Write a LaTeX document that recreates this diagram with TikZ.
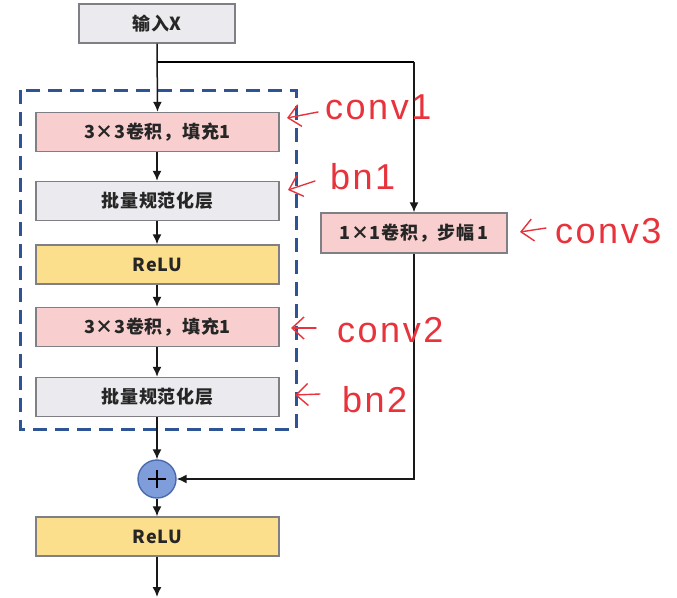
\documentclass[tikz,border=0pt]{standalone}
\usepackage{fontspec}
\setmainfont{Noto Sans CJK SC}
\newfontfamily\annofont{Liberation Sans}
\usetikzlibrary{arrows.meta,calc}
\definecolor{boxborder}{HTML}{7F7F85}
\definecolor{grayfill}{HTML}{EBEBEF}
\definecolor{pinkfill}{HTML}{F8CFCE}
\definecolor{yellowfill}{HTML}{FBDF8C}
\definecolor{bluefill}{HTML}{7E9DDA}
\definecolor{blueborder}{HTML}{4A6AAE}
\definecolor{dashblue}{HTML}{2F5496}
\definecolor{annored}{HTML}{E8333C}
\tikzset{
  layer/.style={draw=boxborder, line width=1.4pt, minimum width=243pt, minimum height=39pt,
    inner sep=0pt, font=\fontsize{18}{20}\selectfont\bfseries\addfontfeatures{LetterSpace=4}, text=black!85},
  graybox/.style={layer, fill=grayfill},
  pinkbox/.style={layer, fill=pinkfill},
  yellowbox/.style={layer, fill=yellowfill},
  flow/.style={line width=1.5pt, draw=black!90, -{Latex[length=10pt,width=9pt]}},
  anno/.style={draw=annored, line width=1.4pt, line cap=round, -{Straight Barb[length=12pt,width=22pt]}},
  annotext/.style={text=annored, anchor=base west, inner sep=0pt, font=\annofont\fontsize{36}{40}\selectfont\addfontfeatures{LetterSpace=7}},
}
\begin{document}
\begin{tikzpicture}[x=1pt,y=-1pt]
\useasboundingbox[fill=white] (0,0) rectangle (677,597);
% dashed block
\draw[dashblue, line width=3pt, dash pattern=on 14pt off 8pt] (20,90) rectangle (296,429);
% nodes
\node[graybox, minimum width=156pt] (in) at (157,23.5) {输入X};
\node[pinkbox] (c1) at (157.5,132) {3×3卷积，填充1};
\node[graybox] (b1) at (157.5,201) {批量规范化层};
\node[yellowbox] (r1) at (157.5,264.5) {ReLU};
\node[pinkbox] (c2) at (157.5,327) {3×3卷积，填充1};
\node[graybox] (b2) at (157.5,397) {批量规范化层};
\node[circle, draw=blueborder, fill=bluefill, line width=1.4pt, minimum size=38pt, inner sep=0pt] (plus) at (157,479) {};
\draw[line width=2.4pt] ($(plus.center)+(-9,0)$) -- ($(plus.center)+(9,0)$)
  ($(plus.center)+(0,-9)$) -- ($(plus.center)+(0,9)$);
\node[yellowbox] (r2) at (157.5,536.5) {ReLU};
\node[pinkbox, minimum width=186pt, minimum height=40pt] (c3) at (414,233) {1×1卷积，步幅\,1};
\coordinate (split) at (157,62);
\coordinate (out) at (157,597);
% connectors
\draw[flow] (in.south) -- (c1.north);
\draw[line width=1.5pt] (split) -- (split -| c3.north);
\draw[flow] (split -| c3.north) -- (c3.north);
\draw[flow] (c1.south -| in.south) -- (b1.north -| in.south);
\draw[flow] (b1.south -| in.south) -- (r1.north -| in.south);
\draw[flow] (r1.south -| in.south) -- (c2.north -| in.south);
\draw[flow] (c2.south -| in.south) -- (b2.north -| in.south);
\draw[flow] (b2.south -| in.south) -- (plus.north);
\draw[flow] (plus.south) -- (r2.north -| plus.south);
\draw[flow] (r2.south -| plus.south) -- (out);
\draw[flow] (c3.south) |- (plus.east);
% annotations
\coordinate (a1s) at (318,112); \coordinate (a1t) at (287,118);
\coordinate (a2s) at (315,181); \coordinate (a2t) at (288,190);
\coordinate (a3s) at (546,228); \coordinate (a3t) at (520,232);
\coordinate (a4s) at (316,328); \coordinate (a4t) at (291,328);
\coordinate (a5s) at (320,394); \coordinate (a5t) at (295,395);
\draw[anno] (a1s) -- (a1t);
\draw[anno] (a2s) -- (a2t);
\draw[anno] (a3s) -- (a3t);
\draw[anno] (a4s) -- (a4t);
\draw[anno] (a5s) -- (a5t);
\node[annotext] (t1) at (325,119) {conv1};
\node[annotext] (t2) at (330,189) {bn1};
\node[annotext] (t3) at (555,243) {conv3};
\node[annotext] (t4) at (337,342) {conv2};
\node[annotext] (t5) at (342,412) {bn2};
\end{tikzpicture}
\end{document}
